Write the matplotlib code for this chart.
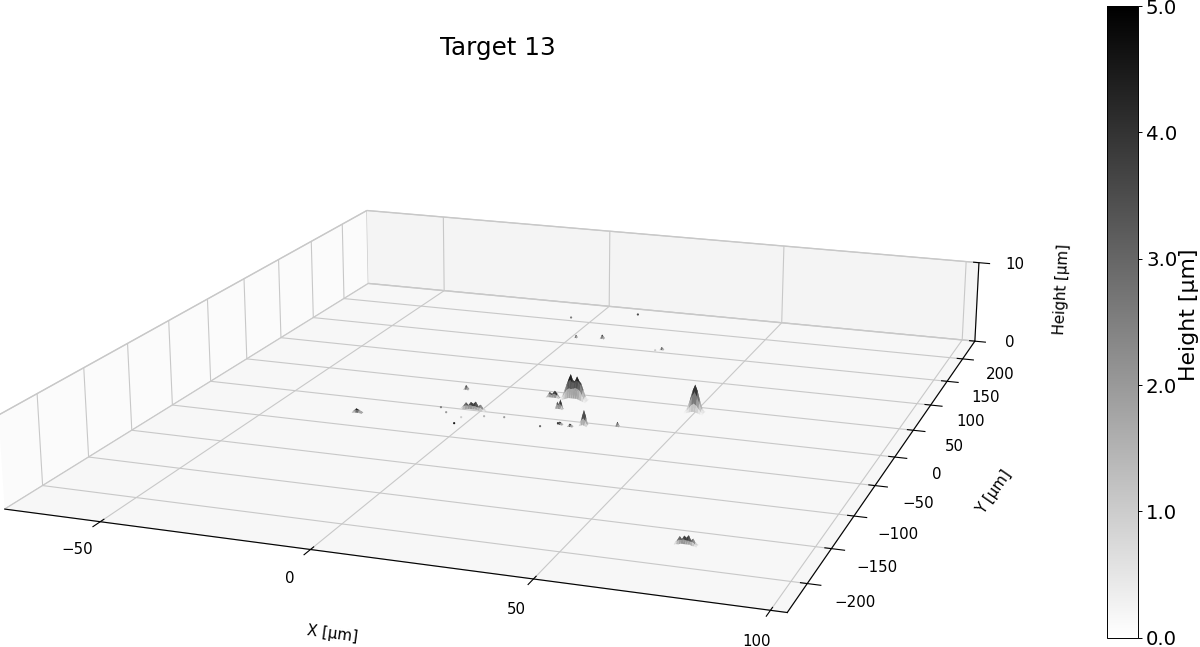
import numpy as np, matplotlib
matplotlib.use('Agg')
import matplotlib.pyplot as plt
from matplotlib.cm import ScalarMappable
from matplotlib.colors import Normalize

title = 'Target 13'
x_label, y_label, z_label = 'X [µm]', 'Y [µm]', 'Height [µm]'
x_ticks = [-50, 0, 50, 100]
y_ticks = [-200, -150, -100, -50, 0, 50, 100, 150, 200]
z_ticks = [0, 10]
cbar_ticks = [0.0, 1.0, 2.0, 3.0, 4.0, 5.0]

cone_heights = [[.1,.15,.25,.35,.4,.35,.25,.15,.1],
                [.15,.35,.7,1.1,1.3,1.1,.7,.35,.15],
                [.2,.6,1.3,2.1,2.6,2.1,1.3,.6,.2],
                [.2,.7,1.7,2.7,3.4,2.7,1.7,.7,.2],
                [.2,.6,1.4,2.2,2.8,2.2,1.4,.6,.2],
                [.15,.35,.7,1.2,1.5,1.2,.7,.35,.15],
                [.1,.15,.25,.4,.5,.4,.25,.15,.1]]
cluster_heights = [[.1,.2,.3,.4,.5,.5,.5,.5,.5,.4,.3,.2,.1],
                   [.2,.5,1.0,1.4,1.6,1.5,1.6,1.7,1.6,1.4,.9,.4,.1],
                   [.3,.9,1.6,2.2,2.5,2.2,2.2,2.5,2.3,2.0,1.3,.6,.1],
                   [.3,1.0,1.8,2.5,3.1,2.4,2.3,2.9,2.4,2.1,1.4,.6,.1],
                   [.2,.8,1.4,2.1,2.6,2.0,1.9,2.4,2.0,1.6,1.0,.4,.1],
                   [.1,.3,.7,1.0,1.2,1.0,.9,1.1,.9,.7,.5,.2,.1],
                   [.1,.1,.2,.3,.3,.3,.2,.3,.3,.2,.2,.1,.1]]
tower_heights = [[.1,.2,.3,.2,.1],
                 [.2,.7,1.0,.7,.2],
                 [.3,1.1,1.9,1.2,.3],
                 [.2,.7,1.1,.7,.2],
                 [.1,.2,.3,.2,.1]]
twin_heights = [[.1,.2,.2,.2,.2,.1],
                [.1,.7,.5,.8,.5,.1],
                [.1,.9,.6,1.2,.7,.1],
                [.1,.3,.2,.4,.2,.1]]
ridge_heights = [[.0,.1,.1,.2,.2,.2,.2,.2,.1,.1,.0],
                 [.1,.3,.5,.5,.6,.5,.5,.4,.4,.2,.1],
                 [.1,.4,.8,.5,.9,.7,1.0,.5,.7,.3,.1],
                 [.0,.2,.3,.3,.4,.4,.4,.3,.3,.2,.0],
                 [.0,.0,.1,.1,.1,.1,.1,.1,.1,.0,.0]]
bump_heights = [[.0,.1,.1,.0],
                [.1,.5,.6,.1],
                [.1,.7,.4,.1],
                [.0,.1,.1,.0]]

# feature: centre x, centre y, step x, step y
cone_pos = (50.2, 38.0, 0.6, 1.2)
cluster_pos = (19.1, 38.0, 0.55, 1.5)
tower_pos = (27.8, -6.5, 0.5, 1.2)
left_small_pos = (13.3, 38.5, 0.7, 1.2)
mid_small_pos = (17.9, 18.0, 0.4, 1.2)
left_cluster_pos = (-2.0, 1.0, 0.65, 1.2)
far_ridge_pos = (73.9, -169.0, 0.5, 1.2)
bump_x = [35.5, -28.0, -9.6, 1.4, 8.4, 26.6, 22.0, 24.8]
bump_y = [-0.2, -26.5, 36.5, 163.5, 167.0, 156.0, -8.0, -9.5]
bump_amp = [0.5, 0.45, 0.5, 0.35, 0.5, 0.3, 0.3, 0.3]
bump_step = [0.3, 0.9, 0.45, 0.25, 0.4, 0.35, 0.45, 0.45]

speck_x = [18.0, -10.1, -7.4, -2.4, -2.5, 2.5, 7.4, 21.3, -5.9, 10.6, 25.2]
speck_y = [-16.1, -2.1, -10.0, -27.5, -15.8, -9.6, -7.4, -7.4, 203.9, 225.6, 152.0]
speck_z = [.1, .1, .1, .1, .1, .1, .1, .1, .2, .2, .1]
speck_shade = [3.0, 2.5, 2.0, 4.5, 1.0, 1.5, 2.0, 4.0, 2.5, 3.5, 1.0]

PX = 2577.258
fig = plt.figure(figsize=(12, 6.47), dpi=100)
ax = fig.add_subplot(projection='3d')
ax.set_position([293.2/1200, 27.96/647, 476.8/1200, 476.8/647])
ax.view_init(elev=17.108, azim=-70.357)
ax.set_box_aspect((0.8747, 1, 0.10759), zoom=2.25878)
ax.set_xlim(-73.716, 103.423)
ax.set_ylim(-238.888, 241.644)
ax.set_zlim(0, 10)

def draw(heights, pos, amp=1.0, top=1.15):
    z = np.asarray(heights, float) * amp
    cx, cy, dx, dy = pos
    n, m = z.shape
    xs = cx + (np.arange(m) - (m - 1) / 2) * dx
    ys = cy + (np.arange(n) - (n - 1) / 2) * dy
    X, Y = np.meshgrid(xs, ys)
    s = ax.plot_surface(X, Y, z, cmap='gray_r', vmin=0, vmax=z.max() * top,
                        rstride=1, cstride=1, linewidth=0, antialiased=True, shade=False)
    s.set_clip_on(False)

draw(cone_heights, cone_pos, top=1.0)
draw(cluster_heights, cluster_pos, top=0.95)
draw(tower_heights, tower_pos, top=0.9)
draw(twin_heights, left_small_pos, 0.7, top=0.85)
draw(twin_heights, mid_small_pos, top=0.85)
draw(ridge_heights, left_cluster_pos, top=0.9)
draw(ridge_heights, far_ridge_pos, top=0.9)
for bx, by, ba, bs in zip(bump_x, bump_y, bump_amp, bump_step):
    draw(bump_heights, (bx, by, bs, 1.0), ba / 0.7, top=0.8)
ax.scatter(speck_x, speck_y, speck_z, c=speck_shade, cmap='gray_r', vmin=0, vmax=5,
           s=2.5, linewidths=0, depthshade=False)

ax.set_xticks(x_ticks); ax.set_yticks(y_ticks); ax.set_zticks(z_ticks)
ax.tick_params(labelsize=10.8)
ax.tick_params(axis='x', pad=1)
ax.tick_params(axis='y', pad=2)
ax.tick_params(axis='z', pad=0)
panes = {ax.xaxis: 0.984, ax.yaxis: 0.955, ax.zaxis: 0.968}
for a, g in panes.items():
    a._axinfo['grid']['linewidth'] = 0.8
    a._axinfo['grid']['color'] = '#c8c8c8'
    a.set_pane_color((g, g, g, 1.0))
    a.pane.set_edgecolor('#cccccc')

def nudge(label, dx, dy):
    orig = label.set_position
    label.set_position = lambda xy: orig((xy[0] + dx / PX, xy[1] - dy / PX))

ax.set_xlabel(x_label, fontsize=10.9, labelpad=6)
ax.set_ylabel(y_label, fontsize=10.9, labelpad=6)
ax.set_zlabel(z_label, fontsize=10.9, labelpad=6)
nudge(ax.xaxis.label, 17, 8)
nudge(ax.yaxis.label, -15, 10)
nudge(ax.zaxis.label, -32, 6)

fig.text(498/1200, 1 - 47.5/647, title, fontsize=17.7, ha='center', va='center')

cax = fig.add_axes([1106.7/1200, (647-637.7)/647, 31.6/1200, 631.7/647])
cb = fig.colorbar(ScalarMappable(Normalize(0, 5), 'gray_r'), cax=cax, ticks=cbar_ticks, format='%.1f')
cb.ax.tick_params(labelsize=14.2, length=3, width=0.7, pad=2.5)
cb.outline.set_linewidth(0.7)
cb.set_label(z_label, fontsize=15.8, labelpad=1, y=0.511)

fig.savefig('out.png', dpi=100)
